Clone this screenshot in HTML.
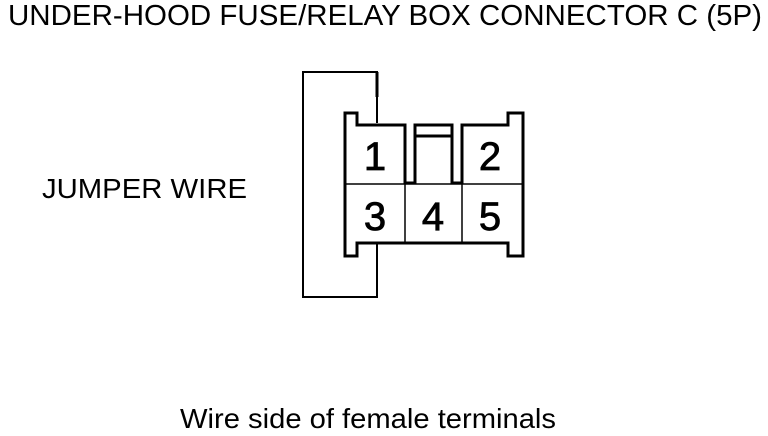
<!DOCTYPE html>
<html><head><meta charset="utf-8"><style>html,body{margin:0;padding:0;background:#fff}svg{display:block}</style></head>
<body>
<svg width="768" height="436" viewBox="0 0 768 436" xmlns="http://www.w3.org/2000/svg" font-family="Liberation Sans, Arial, sans-serif">
<text x="8" y="25" font-size="29" textLength="754" lengthAdjust="spacingAndGlyphs">UNDER-HOOD FUSE/RELAY BOX CONNECTOR C (5P)</text>
<text x="42" y="198" font-size="28" textLength="205" lengthAdjust="spacingAndGlyphs">JUMPER WIRE</text>
<text x="180" y="428" font-size="28" textLength="376" lengthAdjust="spacingAndGlyphs">Wire side of female terminals</text>
<g fill="none" stroke="#000">
<path d="M377 123 V72 H303 V297 H377 V243" stroke-width="2"/>
<path d="M377 72 V97" stroke-width="3"/>
<path d="M345 113 H357 V125 H405 V183 H415 V125 H452 V183 H462 V125 H508 V113 H523 V256 H508 V243 H357 V256 H345 Z" stroke-width="3"/>
<path d="M415 136 H452" stroke-width="3"/>
<path d="M345 184 H523 M405 184 V243 M462 184 V243" stroke-width="1.5"/>
</g>
<g font-size="40" text-anchor="middle" stroke="#000" stroke-width="0.8">
<text x="375" y="170">1</text><text x="490" y="170">2</text>
<text x="375" y="230">3</text><text x="433" y="230">4</text><text x="490" y="230">5</text>
</g>
</svg>
</body></html>
